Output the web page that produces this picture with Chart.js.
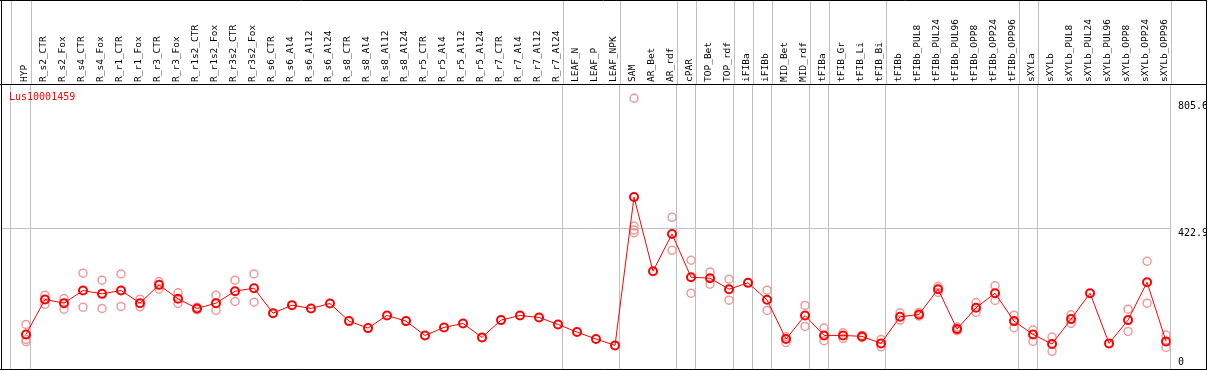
<!DOCTYPE html>
<html>
<head>
<meta charset="utf-8">
<script src="https://cdn.jsdelivr.net/npm/chart.js@4.4.0/dist/chart.umd.min.js"></script>
<style>
  body { margin: 0; background: #fff; }
  canvas { display: block; }
</style>
</head>
<body>
<canvas id="chart" width="1209" height="370"></canvas>
<script>
const geneName = "Lus10001459";

const categories = [
  "HYP", "R_s2_CTR", "R_s2_Fox", "R_s4_CTR", "R_s4_Fox", "R_r1_CTR", "R_r1_Fox", "R_r3_CTR", "R_r3_Fox",
  "R_r1s2_CTR", "R_r1s2_Fox", "R_r3s2_CTR", "R_r3s2_Fox", "R_s6_CTR", "R_s6_Al4", "R_s6_Al12", "R_s6_Al24",
  "R_s8_CTR", "R_s8_Al4", "R_s8_Al12", "R_s8_Al24", "R_r5_CTR", "R_r5_Al4", "R_r5_Al12", "R_r5_Al24",
  "R_r7_CTR", "R_r7_Al4", "R_r7_Al12", "R_r7_Al24", "LEAF_N", "LEAF_P", "LEAF_NPK", "SAM", "AR_Bet", "AR_rdf",
  "cPAR", "TOP_Bet", "TOP_rdf", "iFIBa", "iFIBb", "MID_Bet", "MID_rdf", "tFIBa", "tFIB_Gr", "tFIB_Li", "tFIB_Bi",
  "tFIBb", "tFIBb_PUL8", "tFIBb_PUL24", "tFIBb_PUL96", "tFIBb_OPP8", "tFIBb_OPP24", "tFIBb_OPP96",
  "sXYLa", "sXYLb", "sXYLb_PUL8", "sXYLb_PUL24", "sXYLb_PUL96", "sXYLb_OPP8", "sXYLb_OPP24", "sXYLb_OPP96"
];

// mean expression per sample
const means = [
  104, 209, 198, 236, 226, 236, 198, 253, 211, 182, 198, 234, 243,
  168, 192, 182, 197, 144, 123, 161, 144, 101, 125, 137, 95, 147, 161, 155, 134,
  111, 90, 71, 517, 294, 406, 276, 273, 240, 259, 208, 90, 161,
  101, 101, 98, 77, 157, 164, 240, 120, 184, 228, 144,
  104, 75, 150, 228, 77, 147, 261, 83
];

// replicates (null = not shown / hidden under the mean)
const rep1 = [
  134, 222, 212, 288, 267, 286, 210, 263, 229, 186, 222, 267, 286,
  null, null, null, null, null, null, null, null, null, null, null, null, null, null, null, null,
  null, null, null, 814, null, 456, 327, 292, 270, null, 237, 97, 191,
  123, 109, 101, 89, 169, 170, 248, 126, 200, 250, 162,
  117, 96, 163, null, null, 180, 324, 102
];
const rep2 = [
  89, 195, 180, 186, 182, 188, 187, 240, 197, 178, 176, 203, 201,
  null, null, null, null, null, null, null, null, null, null, null, null, null, null, null, null,
  null, null, null, 430, null, 357, 228, 255, 207, null, 176, 80, 128,
  85, 92, 95, 67, 147, 159, 230, 115, 170, 206, 124,
  83, 53, 137, null, null, 113, 198, 65
];
const rep3 = [
  82, null, null, null, null, null, null, null, null, null, null, null, null,
  null, null, null, null, null, null, null, null, null, null, null, null, null, null, null, null,
  null, null, null, 418, null, null, null, null, null, null, null, null, null,
  null, null, null, null, null, null, null, null, null, null, null,
  null, null, null, null, null, null, null, null
];
const rep4 = [
  null, null, null, null, null, null, null, null, null, null, null, null, null,
  null, null, null, null, null, null, null, null, null, null, null, null, null, null, null, null,
  null, null, null, 410, null, null, null, null, null, null, null, null, null,
  null, null, null, null, null, null, null, null, null, null, null,
  null, null, null, null, null, null, null, null
];

const yTicks = [0, 422.9, 805.6];
// grey separators between sample groups (in category units)
const groupBreaks = [-0.8, 0.24, 28.24, 31.24, 34.24, 35.24, 37.24, 38.24, 39.24, 41.24, 42.24, 45.24, 52.24, 53.24, 60.24];

const FONT = "'DejaVu Sans Mono', 'Liberation Mono', monospace";
const RED = "#ff0000";
const PINK = "#f09a9a";
const GRID = "#c0c0c0";

function toPoints(arr) {
  const pts = [];
  arr.forEach((v, i) => { if (v !== null) pts.push({ x: i, y: v }); });
  return pts;
}

const repSets = [rep1, rep2, rep3, rep4].map(r => ({
  type: "line",
  data: toPoints(r),
  showLine: false,
  borderColor: PINK,
  pointBorderColor: PINK,
  pointBackgroundColor: "rgba(0,0,0,0)",
  pointRadius: 4,
  pointBorderWidth: 1.5,
  order: 2
}));

const framePlugin = {
  id: "frame",
  beforeDatasetsDraw(chart) {
    const { ctx, chartArea, scales } = chart;
    ctx.save();
    // separators continue up through the label strip
    ctx.strokeStyle = GRID;
    ctx.lineWidth = 1;
    groupBreaks.forEach(b => {
      const x = Math.round(scales.x.getPixelForValue(b)) + 0.5;
      ctx.beginPath();
      ctx.moveTo(x, 0);
      ctx.lineTo(x, chartArea.top);
      ctx.stroke();
    });
    ctx.restore();
  },
  afterDraw(chart) {
    const { ctx, chartArea, scales, width } = chart;
    ctx.save();
    // black frame
    ctx.strokeStyle = "#000";
    ctx.lineWidth = 1;
    ctx.beginPath();
    ctx.moveTo(0, 0.5); ctx.lineTo(1207, 0.5);
    ctx.moveTo(0, chartArea.top - 0.5); ctx.lineTo(1207, chartArea.top - 0.5);
    ctx.moveTo(0, chartArea.bottom + 0.5); ctx.lineTo(1207, chartArea.bottom + 0.5);
    ctx.moveTo(1.5, 0); ctx.lineTo(1.5, chartArea.bottom + 1);
    ctx.stroke();

    // value labels on the right
    ctx.fillStyle = "#000";
    ctx.font = "10px " + FONT;
    ctx.textAlign = "left";
    ctx.textBaseline = "middle";
    yTicks.forEach(v => {
      let y = scales.y.getPixelForValue(v) + 5;
      y = Math.min(y, chartArea.bottom - 7);
      ctx.fillText(String(v), 1178, y);
    });
    // right border sits over the clipped label
    ctx.fillStyle = "#fff";
    ctx.fillRect(1207, 0, width - 1207, chartArea.bottom + 1);
    ctx.beginPath();
    ctx.moveTo(1206.5, 0); ctx.lineTo(1206.5, chartArea.bottom + 1);
    ctx.stroke();

    // gene name
    ctx.fillStyle = RED;
    ctx.fillText(geneName, chartArea.left + 7, chartArea.top + 12);
    ctx.restore();
  }
};

new Chart(document.getElementById("chart").getContext("2d"), {
  type: "line",
  data: {
    datasets: [
      {
        data: toPoints(means),
        borderColor: RED,
        borderWidth: 1,
        pointBorderColor: RED,
        pointBackgroundColor: "rgba(0,0,0,0)",
        pointRadius: 4,
        pointBorderWidth: 2,
        tension: 0,
        order: 1
      },
      ...repSets
    ]
  },
  options: {
    responsive: false,
    animation: false,
    devicePixelRatio: 1,
    layout: { autoPadding: false, padding: { left: 2, right: 0, top: 0, bottom: 1 } },
    plugins: { legend: { display: false }, tooltip: { enabled: false } },
    scales: {
      x: {
        type: "linear",
        position: "top",
        min: -24 / 19,
        max: 60.24,
        afterBuildTicks: axis => {
          axis.ticks = categories.map((c, i) => ({ value: i })).concat(groupBreaks.map(b => ({ value: b })));
        },
        afterFit: axis => {
          axis.height = 85;
          axis.paddingLeft = 0;
          axis.paddingRight = 0;
        },
        border: { display: false },
        grid: {
          drawTicks: false,
          lineWidth: 1,
          color: c => (Number.isInteger(c.tick.value) ? "rgba(0,0,0,0)" : GRID)
        },
        ticks: {
          autoSkip: false,
          minRotation: 90,
          maxRotation: 90,
          padding: 3,
          labelOffset: 10,
          color: "#000",
          font: { family: FONT, size: 9.5 },
          callback: v => (Number.isInteger(v) ? categories[v] : "")
        }
      },
      y: {
        type: "linear",
        position: "right",
        min: 0,
        max: 854,
        afterBuildTicks: axis => { axis.ticks = yTicks.map(v => ({ value: v })); },
        afterFit: axis => {
          axis.width = 38.4;
          axis.paddingTop = 0;
          axis.paddingBottom = 0;
        },
        border: { display: false },
        grid: {
          drawTicks: false,
          color: c => (c.tick.value === 422.9 ? GRID : "rgba(0,0,0,0)")
        },
        ticks: { display: false }
      }
    }
  },
  plugins: [framePlugin]
});
</script>
</body>
</html>
